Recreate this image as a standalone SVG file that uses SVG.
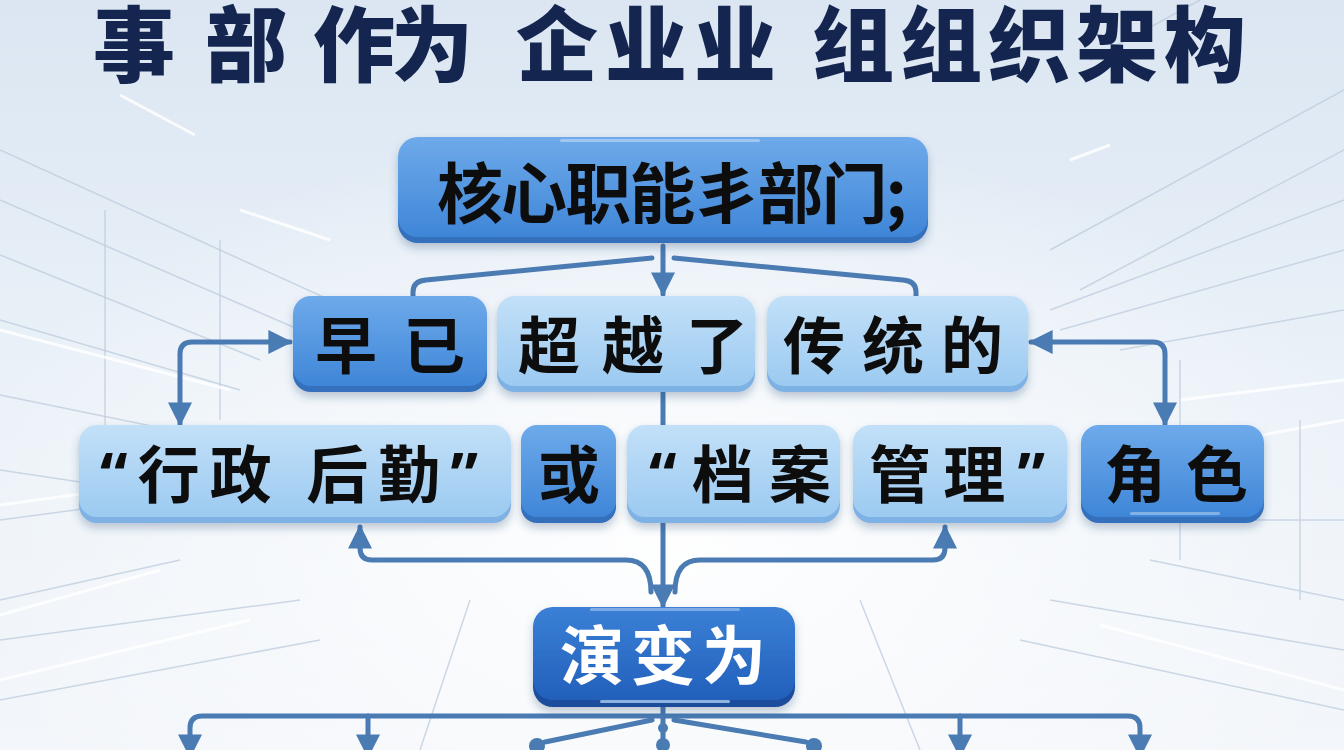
<svg xmlns="http://www.w3.org/2000/svg" width="1344" height="750" viewBox="0 0 1344 750">
<defs>
<linearGradient id="bg" x1="0" y1="0" x2="0" y2="1">
<stop offset="0" stop-color="#dbe6f2"/>
<stop offset="0.5" stop-color="#eaf1f8"/>
<stop offset="1" stop-color="#f3f6fa"/>
</linearGradient>
<radialGradient id="glow" cx="0.5" cy="0.72" r="0.55">
<stop offset="0" stop-color="#ffffff" stop-opacity="0.95"/>
<stop offset="1" stop-color="#ffffff" stop-opacity="0"/>
</radialGradient>
<linearGradient id="gDark" x1="0" y1="0" x2="0" y2="1">
<stop offset="0" stop-color="#6eaaea"/>
<stop offset="1" stop-color="#3f86d8"/>
</linearGradient>
<linearGradient id="gLight" x1="0" y1="0" x2="0" y2="1">
<stop offset="0" stop-color="#c2e0f8"/>
<stop offset="1" stop-color="#9ccaf1"/>
</linearGradient>
<linearGradient id="gDeep" x1="0" y1="0" x2="0" y2="1">
<stop offset="0" stop-color="#3b80d6"/>
<stop offset="1" stop-color="#2260bb"/>
</linearGradient>
<filter id="sh" x="-10%" y="-20%" width="120%" height="150%">
<feDropShadow dx="0" dy="5" stdDeviation="4" flood-color="#24446f" flood-opacity="0.28"/>
</filter>
<marker id="ah" viewBox="0 0 10 10" refX="9" refY="5" markerUnits="userSpaceOnUse" markerWidth="24" markerHeight="24" orient="auto-start-reverse">
<path d="M0 0 L10 5 L0 10 Z" fill="#4a7bb3"/>
</marker>
<style>
.t{font-family:"Noto Sans CJK SC","Noto Sans CJK JP",sans-serif;font-weight:700;fill:#111;}
.q{font-family:"Noto Sans","DejaVu Sans",sans-serif;font-weight:700;}
.title{font-family:"Noto Sans CJK SC","Noto Sans CJK JP",sans-serif;font-weight:900;font-size:82px;fill:#14264f;}
.rimD{fill:#3570bd;}
.rimL{fill:#7eb1e4;}
.rimX{fill:#1a4d9c;}
.hl{fill:#ffffff;opacity:0.35;}
.c{fill:none;stroke:#4a7bb3;stroke-width:5;stroke-linecap:round;stroke-linejoin:round;}
.bgl{fill:none;stroke:#ffffff;stroke-width:3;opacity:0.8;}
.bgd{fill:none;stroke:#b9c9dc;stroke-width:1.5;opacity:0.7;}
</style>
</defs>

<rect width="1344" height="750" fill="url(#bg)"/>
<rect width="1344" height="750" fill="url(#glow)"/>

<g id="background-lines">
<path class="bgd" d="M0 150 L330 300 M0 200 L300 330 M0 255 L260 360 M0 320 L240 390 M0 395 L220 440 M0 470 L200 500"/>
<path class="bgd" d="M105 210 L105 430 M220 240 L220 420 M0 520 L150 500 M0 600 L180 560"/>
<path class="bgl" d="M120 95 L195 135 M0 330 L230 390 M0 505 L110 490 M0 615 L160 570 M240 210 L330 240"/>
<path class="bgd" d="M1344 90 L1050 250 M1344 150 L1080 290 M1344 200 L1050 310 M1344 250 L1060 330 M1344 310 L1120 350 M1200 0 L1090 60"/>
<path class="bgl" d="M1070 160 L1110 145 M1344 380 L1180 400 M1344 420 L1180 450"/>
<path class="bgd" d="M1180 360 L1180 560 M1300 420 L1300 600 M1140 520 L1344 520 M1150 560 L1344 600"/>
<path class="bgd" d="M0 640 L300 600 M0 700 L320 640 M1344 650 L1050 600 M1344 710 L1020 640 M470 600 L420 750 M860 600 L920 750"/>
<path class="bgl" d="M0 680 L250 620 M1344 690 L1100 625"/>
</g>

<g id="title">
<text class="title" x="93" y="75" textLength="88">事</text>
<text class="title" x="205" y="75" textLength="80">部</text>
<text class="title" x="313" y="75" textLength="160" lengthAdjust="spacing">作为</text>
<text class="title" x="516" y="75" textLength="260" lengthAdjust="spacing">企业业</text>
<text class="title" x="812" y="75" textLength="434" lengthAdjust="spacing">组组织架构</text>
</g>

<g id="connectors">
<path class="c" d="M663 246 L663 294" marker-end="url(#ah)"/>
<path class="c" d="M652 258 L426 280 Q413 281 413 292 L413 297"/>
<path class="c" d="M674 258 L903 280 Q916 281 916 292 L916 297"/>
<path class="c" d="M180 424 L180 354 Q180 342 192 342 L290 342" marker-start="url(#ah)" marker-end="url(#ah)"/>
<path class="c" d="M1031 342 L1153 342 Q1165 342 1165 354 L1165 424" marker-start="url(#ah)" marker-end="url(#ah)"/>
<path class="c" d="M663 392 L663 426"/>
<path class="c" d="M663 523 L663 606" marker-end="url(#ah)"/>
<path class="c" d="M651 592 Q651 560 626 560 L372 560 Q360 560 360 548 L360 527" marker-end="url(#ah)"/>
<path class="c" d="M675 592 Q675 560 700 560 L933 560 Q945 560 945 548 L945 527" marker-end="url(#ah)"/>
<path class="c" d="M663 707 L663 752"/>
<path class="c" d="M190 756 L190 728 Q190 716 202 716 L1128 716 Q1140 716 1140 728 L1140 756" marker-start="url(#ah)" marker-end="url(#ah)"/>
<path class="c" d="M368 716 L368 756" marker-end="url(#ah)"/>
<path class="c" d="M960 716 L960 756" marker-end="url(#ah)"/>
<path class="c" d="M652 720 L545 742"/>
<path class="c" d="M674 720 L806 742"/>
<circle cx="537" cy="746" r="8" fill="#4a7bb3"/>
<circle cx="814" cy="746" r="8" fill="#4a7bb3"/>
<circle cx="663" cy="728" r="5" fill="#4a7bb3"/>
<circle cx="663" cy="745" r="7" fill="#4a7bb3"/>
</g>

<g id="node-core" filter="url(#sh)">
<rect class="rimD" x="398" y="143" width="530" height="100" rx="20"/>
<rect x="398" y="137" width="530" height="100" rx="20" fill="url(#gDark)"/>
<rect class="hl" x="560" y="139" width="200" height="3" rx="1.5"/>
<text class="t" x="672" y="218" font-size="66" text-anchor="middle" textLength="470" lengthAdjust="spacing">核心职能丯部门;</text>
</g>

<g id="node-zaoyi" filter="url(#sh)">
<rect class="rimD" x="293" y="302" width="194" height="90" rx="18"/>
<rect x="293" y="296" width="194" height="90" rx="18" fill="url(#gDark)"/>
<text class="t" x="390" y="369" font-size="62" text-anchor="middle" textLength="150" lengthAdjust="spacing">早已</text>
</g>

<g id="node-chaoyue" filter="url(#sh)">
<rect class="rimL" x="497" y="302" width="258" height="90" rx="18"/>
<rect x="497" y="296" width="258" height="90" rx="18" fill="url(#gLight)"/>
<text class="t" x="633" y="369" font-size="62" text-anchor="middle" textLength="230" lengthAdjust="spacing">超越了</text>
</g>

<g id="node-chuantong" filter="url(#sh)">
<rect class="rimL" x="767" y="302" width="261" height="90" rx="18"/>
<rect x="767" y="296" width="261" height="90" rx="18" fill="url(#gLight)"/>
<text class="t" x="893" y="369" font-size="62" text-anchor="middle" textLength="220" lengthAdjust="spacing">传统的</text>
</g>

<g id="node-xingzheng" filter="url(#sh)">
<rect class="rimL" x="79" y="431" width="432" height="92" rx="18"/>
<rect x="79" y="425" width="432" height="92" rx="18" fill="url(#gLight)"/>
<text class="t" x="289" y="498" font-size="62" text-anchor="middle" textLength="378" lengthAdjust="spacing"><tspan class="q">“</tspan>行政 后勤<tspan class="q">”</tspan></text>
</g>

<g id="node-huo" filter="url(#sh)">
<rect class="rimD" x="521" y="431" width="95" height="92" rx="16"/>
<rect x="521" y="425" width="95" height="92" rx="16" fill="url(#gDark)"/>
<text class="t" x="569" y="498" font-size="62" text-anchor="middle">或</text>
</g>

<g id="node-dangan" filter="url(#sh)">
<rect class="rimL" x="627" y="431" width="213" height="92" rx="18"/>
<rect x="627" y="425" width="213" height="92" rx="18" fill="url(#gLight)"/>
<text class="t" x="740" y="498" font-size="62" text-anchor="middle" textLength="182" lengthAdjust="spacing"><tspan class="q">“</tspan>档案</text>
</g>

<g id="node-guanli" filter="url(#sh)">
<rect class="rimL" x="853" y="431" width="214" height="92" rx="18"/>
<rect x="853" y="425" width="214" height="92" rx="18" fill="url(#gLight)"/>
<text class="t" x="957" y="498" font-size="62" text-anchor="middle" textLength="176" lengthAdjust="spacing">管理<tspan class="q">”</tspan></text>
</g>

<g id="node-juese" filter="url(#sh)">
<rect class="rimD" x="1081" y="431" width="183" height="92" rx="18"/>
<rect x="1081" y="425" width="183" height="92" rx="18" fill="url(#gDark)"/>
<rect class="hl" x="1130" y="512" width="90" height="3" rx="1.5"/>
<text class="t" x="1176" y="498" font-size="62" text-anchor="middle" textLength="144" lengthAdjust="spacing">角色</text>
</g>

<g id="node-yanbian" filter="url(#sh)">
<rect class="rimX" x="533" y="614" width="262" height="93" rx="20"/>
<rect x="533" y="607" width="262" height="93" rx="20" fill="url(#gDeep)"/>
<rect class="hl" x="590" y="608" width="150" height="3" rx="1.5"/>
<rect x="600" y="700" width="130" height="3" rx="1.5" fill="#bfe0ff" opacity="0.7"/>
<text class="t" x="663" y="679" font-size="64" text-anchor="middle" textLength="206" lengthAdjust="spacing" style="fill:#ffffff">演变为</text>
</g>
</svg>
